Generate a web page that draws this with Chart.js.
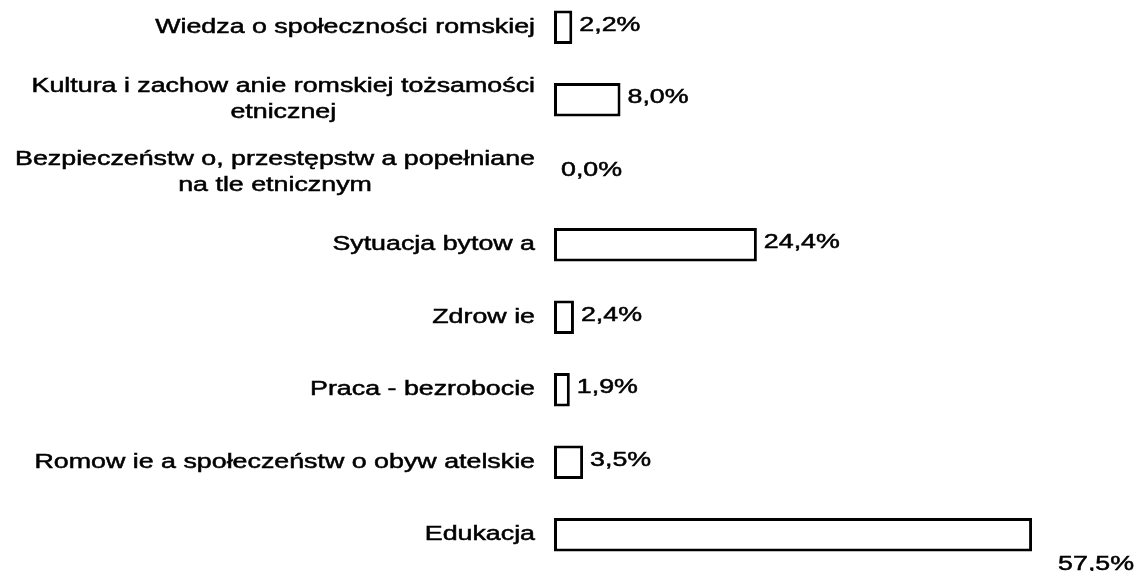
<!DOCTYPE html>
<html>
<head>
<meta charset="utf-8">
<script src="https://cdn.jsdelivr.net/npm/chart.js@4"></script>
<style>
  html, body { margin: 0; padding: 0; background: #fff; overflow: hidden; }
  #wrap { position: absolute; left: 0; top: -9px; width: 1137px; height: 580px; }
</style>
</head>
<body>
<div id="wrap"><canvas id="tematy"></canvas></div>
<script>
const categories = [
  "Wiedza o społeczności romskiej",
  ["Kultura i zachow anie romskiej tożsamości", "etnicznej"],
  ["Bezpieczeństw o, przestępstw a popełniane", "na tle etnicznym"],
  "Sytuacja bytow a",
  "Zdrow ie",
  "Praca - bezrobocie",
  "Romow ie a społeczeństw o obyw atelskie",
  "Edukacja"
];
const values = [2.2, 8.0, 0.0, 24.4, 2.4, 1.9, 3.5, 57.5];

const FONT = '20px "Liberation Sans", Arial, sans-serif';
const STRETCH = 1.34; // text is drawn horizontally widened

// draw text starting at x (left edge), widened by STRETCH
function wideText(ctx, txt, x, y) {
  ctx.save();
  ctx.scale(STRETCH, 1);
  ctx.fillText(txt, x / STRETCH, y);
  ctx.strokeText(txt, x / STRETCH, y);
  ctx.restore();
}

// category names on the left, multi-line names centred as a block
const categoryLabels = {
  id: "categoryLabels",
  afterDraw(chart) {
    const ctx = chart.ctx;
    const y = chart.scales.y;
    const right = chart.chartArea.left - 19;
    ctx.save();
    ctx.font = FONT;
    ctx.fillStyle = "#000";
    ctx.strokeStyle = "#000";
    ctx.lineWidth = 0.5;
    ctx.textBaseline = "middle";
    ctx.textAlign = "left";
    categories.forEach((c, i) => {
      const lines = Array.isArray(c) ? c : [c];
      const widths = lines.map(l => ctx.measureText(l).width * STRETCH);
      const w = Math.max(...widths);
      const cy = y.getPixelForValue(i);
      const lh = 26;
      lines.forEach((l, k) => {
        const x = right - w / 2 - widths[k] / 2;
        wideText(ctx, l, x, cy + (k - (lines.length - 1) / 2) * lh);
      });
    });
    ctx.restore();
  }
};

// percentage next to each bar; the longest one sits under its bar end
const valueLabels = {
  id: "valueLabels",
  afterDatasetsDraw(chart) {
    const ctx = chart.ctx;
    const meta = chart.getDatasetMeta(0);
    const maxV = Math.max(...values);
    ctx.save();
    ctx.font = FONT;
    ctx.fillStyle = "#000";
    ctx.strokeStyle = "#000";
    ctx.lineWidth = 0.5;
    ctx.textBaseline = "middle";
    ctx.textAlign = "left";
    meta.data.forEach((bar, i) => {
      const txt = values[i].toFixed(1).replace(".", ",") + "%";
      if (values[i] === maxV) {
        wideText(ctx, txt, bar.x + 26, bar.y + 30);
      } else {
        wideText(ctx, txt, bar.x + 7, bar.y - 2);
      }
    });
    ctx.restore();
  }
};

new Chart(document.getElementById("tematy"), {
  type: "bar",
  data: {
    labels: categories,
    datasets: [{
      data: values,
      backgroundColor: "#fff",
      borderColor: "#000",
      borderWidth: 3,
      borderSkipped: false,
      barPercentage: 0.46,
      categoryPercentage: 1
    }]
  },
  options: {
    indexAxis: "y",
    responsive: true,
    maintainAspectRatio: false,
    animation: false,
    layout: { padding: { left: 554, right: 1, top: 0, bottom: 0 } },
    scales: {
      x: { min: 0, max: 70, display: false },
      y: { display: false }
    },
    plugins: {
      legend: { display: false },
      tooltip: { enabled: false }
    }
  },
  plugins: [categoryLabels, valueLabels]
});
</script>
</body>
</html>
